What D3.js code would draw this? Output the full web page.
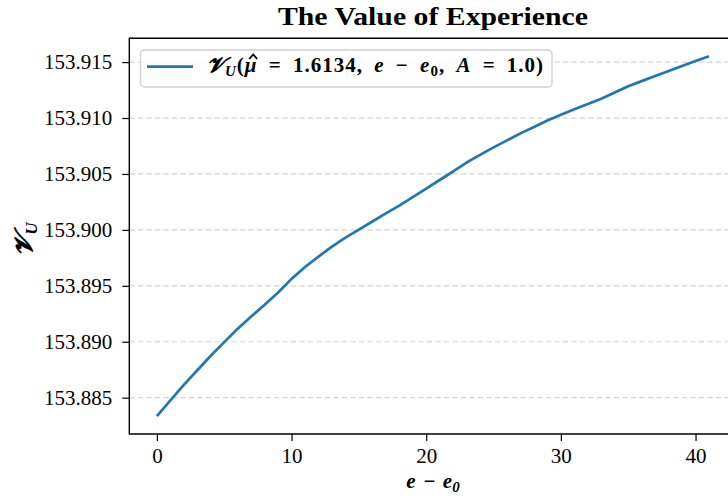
<!DOCTYPE html>
<html>
<head>
<meta charset="utf-8">
<script src="https://cdn.jsdelivr.net/npm/d3@7"></script>
<style>
  html, body { margin: 0; padding: 0; background: #fff; overflow: hidden; }
  svg { display: block; }
  text { font-family: "Liberation Serif", "DejaVu Serif", serif; fill: #000; }
</style>
</head>
<body>
<svg id="chart" width="728" height="496"></svg>
<script>
// Experience offset e - e0
const experience = [0, 1, 2, 3, 4, 5, 6, 7, 8, 9, 10, 11, 12, 13, 14, 15, 16, 17, 18, 19, 20,
  21, 22, 23, 24, 25, 26, 27, 28, 29, 30, 31, 32, 33, 34, 35, 36, 37, 38, 39, 40, 41];
// Value V_U at each experience offset
const valueU = [153.88336, 153.88475, 153.88614, 153.88745, 153.88875, 153.88997, 153.89117,
  153.89225, 153.89330, 153.89440, 153.89562, 153.89668, 153.89761, 153.89850, 153.89930,
  153.90003, 153.90075, 153.90147, 153.90217, 153.90292, 153.90368, 153.90446, 153.90522,
  153.90602, 153.90670, 153.90738, 153.90800, 153.90863, 153.90920, 153.90978, 153.91029,
  153.91078, 153.91125, 153.91172, 153.91228, 153.91284, 153.91330, 153.91376, 153.91421,
  153.91465, 153.91510, 153.91552];
const xTicks = [0, 10, 20, 30, 40];
const yTicks = [153.885, 153.890, 153.895, 153.900, 153.905, 153.910, 153.915];

const svg = d3.select("#chart");
const plotLeft = 129.3, plotRight = 736.6, plotTop = 38.3, plotBottom = 434;

// 5% padding around the data range on each axis
const xMin = d3.min(experience), xMax = d3.max(experience);
const yMin = d3.min(valueU), yMax = d3.max(valueU);
const xPad = (xMax - xMin) * 0.05, yPad = (yMax - yMin) * 0.05;

const x = d3.scaleLinear().domain([xMin - xPad, xMax + xPad]).range([plotLeft, plotRight]);
const y = d3.scaleLinear().domain([yMin - yPad, yMax + yPad]).range([plotBottom, plotTop]);

// Dashed horizontal grid
svg.append("g")
  .selectAll("line")
  .data(yTicks)
  .join("line")
  .attr("x1", plotLeft).attr("x2", plotRight)
  .attr("y1", d => y(d)).attr("y2", d => y(d))
  .attr("stroke", "#d3d3d3")
  .attr("stroke-width", 1.2)
  .attr("stroke-dasharray", "5.5,3");

// Curve
const line = d3.line().x((d, i) => x(experience[i])).y(d => y(d));
svg.append("path")
  .datum(valueU)
  .attr("d", line)
  .attr("fill", "none")
  .attr("stroke", "#1f77b4")
  .attr("stroke-width", 2.7)
  .attr("stroke-linejoin", "round");

// Axes
const xAxis = d3.axisBottom(x).tickValues(xTicks).tickSize(7).tickPadding(7).tickFormat(d3.format("d"));
const yAxis = d3.axisLeft(y).tickValues(yTicks).tickSize(7).tickPadding(10).tickFormat(d3.format(".3f"));

const gx = svg.append("g").attr("transform", `translate(0,${plotBottom})`).call(xAxis);
const gy = svg.append("g").attr("transform", `translate(${plotLeft},0)`).call(yAxis);
[gx, gy].forEach(g => {
  g.select(".domain").remove();
  g.selectAll(".tick line").attr("stroke", "#000").attr("stroke-width", 1.2);
  g.selectAll(".tick text").attr("font-size", 21).attr("font-family", "'Liberation Serif', serif").attr("fill", "#000");
});

// Spines (left, bottom, top)
svg.append("path")
  .attr("d", `M${plotRight},${plotTop}H${plotLeft}V${plotBottom}H${plotRight}`)
  .attr("fill", "none").attr("stroke", "#000").attr("stroke-width", 1.4);

// Title
svg.append("text")
  .attr("x", (plotLeft + plotRight) / 2).attr("y", 25)
  .attr("text-anchor", "middle")
  .attr("font-size", 25).attr("font-weight", "bold")
  .attr("textLength", 310).attr("lengthAdjust", "spacingAndGlyphs")
  .text("The Value of Experience");

// Axis labels
const xl = svg.append("text")
  .attr("x", (plotLeft + plotRight) / 2).attr("y", 488)
  .attr("text-anchor", "middle")
  .attr("font-size", 21).attr("font-weight", "bold").attr("font-style", "italic")
  .attr("word-spacing", 2);
xl.append("tspan").text("e − e");
xl.append("tspan").attr("font-size", 15).attr("dy", 4).text("0");

const yl = svg.append("text")
  .attr("transform", `translate(32,239) rotate(-90)`)
  .attr("text-anchor", "middle")
  .attr("font-size", 25).attr("font-weight", "bold").attr("font-style", "italic");
yl.append("tspan").text("𝓥");
yl.append("tspan").attr("font-size", 17).attr("dy", 5).text("U");

// Legend
const lg = svg.append("g");
lg.append("rect")
  .attr("x", 140.5).attr("y", 50).attr("width", 411.5).attr("height", 37).attr("rx", 4)
  .attr("fill", "#fff").attr("fill-opacity", 0.8)
  .attr("stroke", "#d0d0d0").attr("stroke-width", 1.3);
lg.append("line")
  .attr("x1", 147).attr("x2", 193).attr("y1", 66.7).attr("y2", 66.7)
  .attr("stroke", "#1f77b4").attr("stroke-width", 2.7);
const legendBaseline = 72;
const lt = lg.append("text")
  .attr("x", 207).attr("y", legendBaseline)
  .attr("font-size", 21).attr("font-weight", "bold")
  .attr("word-spacing", 5).attr("letter-spacing", 1);
lt.append("tspan").attr("font-style", "italic").text("𝓥");
lt.append("tspan").attr("font-style", "italic").attr("font-size", 15).attr("dy", 4).text("U");
lt.append("tspan").attr("dy", -4).text("(");
const mu = lt.append("tspan").attr("font-style", "italic").text("μ");
lt.append("tspan").text(" = 1.6134, ");
lt.append("tspan").attr("font-style", "italic").text("e");
lt.append("tspan").text(" − ");
lt.append("tspan").attr("font-style", "italic").text("e");
lt.append("tspan").attr("font-size", 15).attr("dy", 4).text("0");
lt.append("tspan").attr("dy", -4).text(", ");
lt.append("tspan").attr("font-style", "italic").text("A");
lt.append("tspan").text(" = 1.0)");

// Hat accent over the mu
const muStart = mu.node().getStartPositionOfChar(0).x;
const muEnd = mu.node().getEndPositionOfChar(0).x;
const hatX = (muStart + muEnd) / 2 + 2;
lg.append("path")
  .attr("d", `M${hatX - 4},${legendBaseline - 13} L${hatX},${legendBaseline - 17.5} L${hatX + 4},${legendBaseline - 13}`)
  .attr("fill", "none").attr("stroke", "#000").attr("stroke-width", 1.8)
  .attr("stroke-linejoin", "miter");
</script>
</body>
</html>
